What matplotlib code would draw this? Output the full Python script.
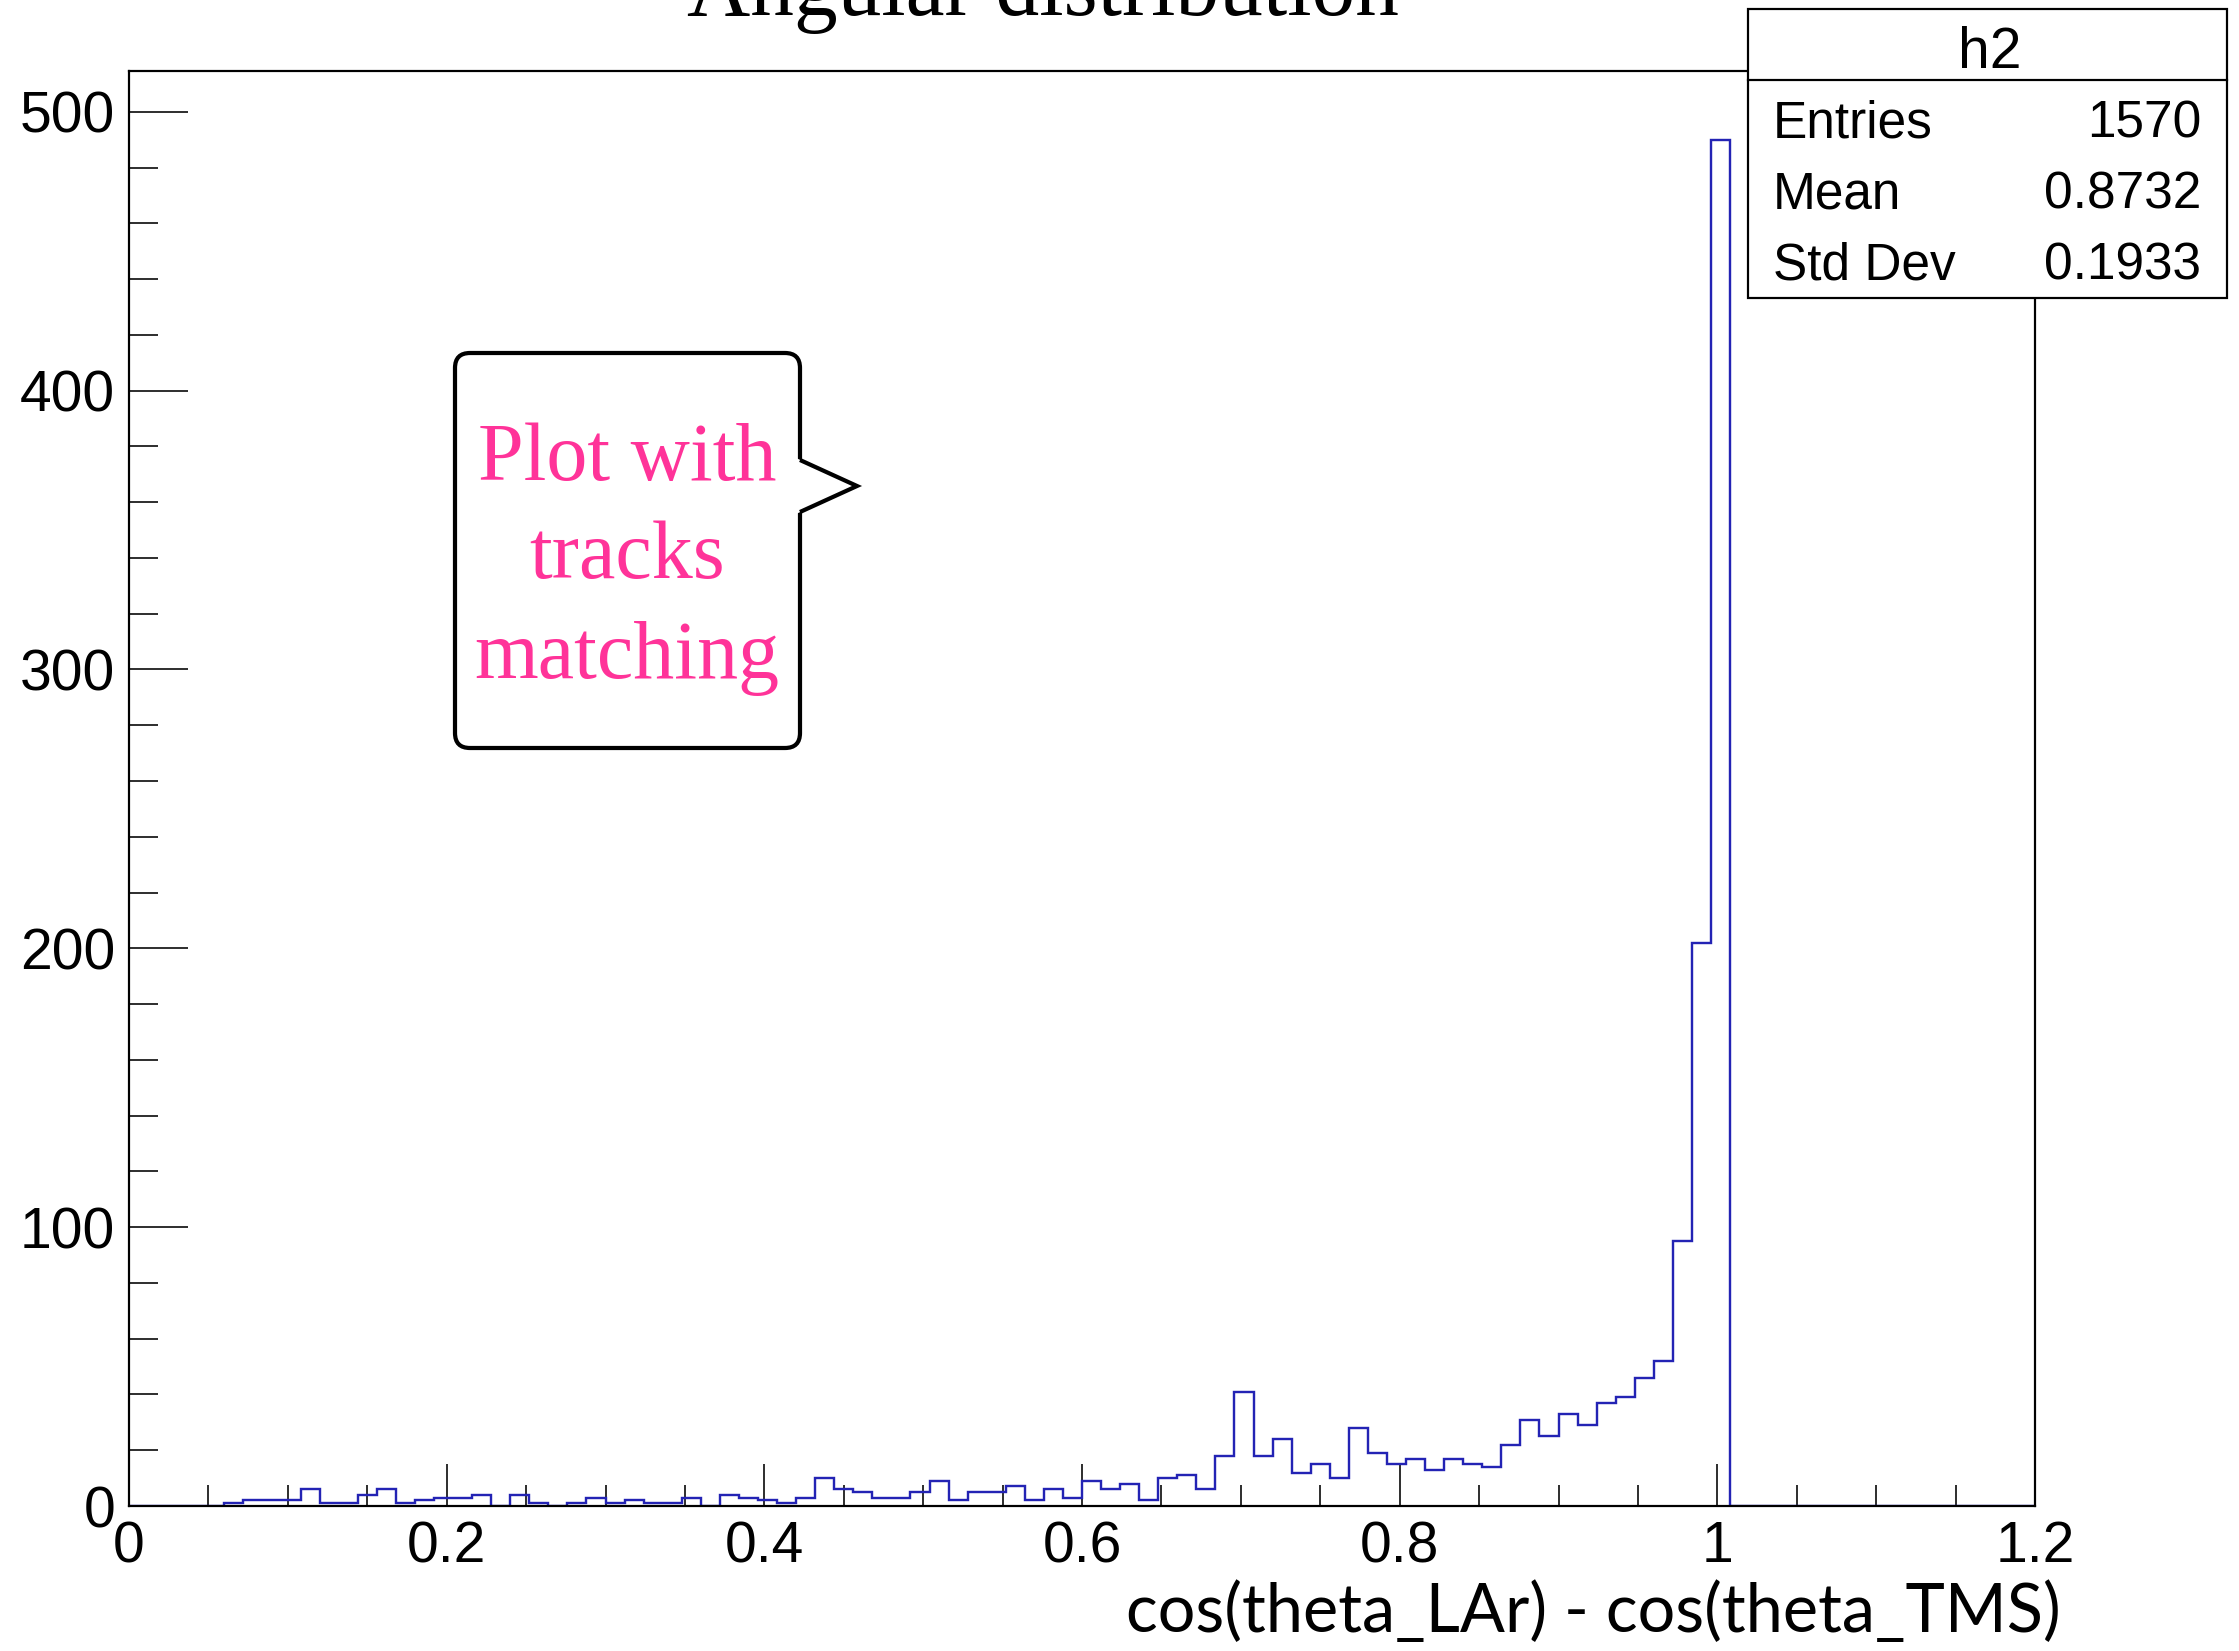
import numpy as np
import matplotlib
matplotlib.use("Agg")
import matplotlib.pyplot as plt
from matplotlib.patches import Rectangle, FancyBboxPatch, Polygon
from matplotlib.ticker import FixedLocator, MultipleLocator

# canvas size in pixels
W, H = 2239, 1651
DPI = 100

# histogram binning and contents
x_low, x_high, n_bins = 0.0, 1.2, 100
bin_counts = [
    0, 0, 0, 0, 0, 1, 2, 2, 2, 6,
    1, 1, 4, 6, 1, 2, 3, 3, 4, 0,
    4, 1, 0, 1, 3, 1, 2, 1, 1, 3,
    0, 4, 3, 2, 1, 3, 10, 6, 5, 3,
    3, 5, 9, 2, 5, 5, 7, 2, 6, 3,
    9, 6, 8, 2, 10, 11, 6, 18, 41, 18,
    24, 12, 15, 10, 28, 19, 15, 17, 13, 17,
    15, 14, 22, 31, 25, 33, 29, 37, 39, 46,
    52, 95, 202, 490, 0, 0, 0, 0, 0, 0,
    0, 0, 0, 0, 0, 0, 0, 0, 0, 0,
]
y_max = 514.5

x_ticks = [0.0, 0.2, 0.4, 0.6, 0.8, 1.0, 1.2]
x_tick_labels = ["0", "0.2", "0.4", "0.6", "0.8", "1", "1.2"]
y_ticks = [0, 100, 200, 300, 400, 500]
y_tick_labels = ["0", "100", "200", "300", "400", "500"]

title_text = "Angular distribution"
x_title = "cos(theta_LAr) - cos(theta_TMS)"
stats_name = "h2"
stats_labels = ["Entries", "Mean", "Std Dev"]
stats_values = ["1570", "0.8732", "0.1933"]
note_lines = ["Plot with", "tracks", "matching"]

SANS = ["Liberation Sans", "DejaVu Sans"]
SERIF = ["Liberation Serif", "DejaVu Serif"]
HUMANIST = ["Lato", "DejaVu Sans"]

def pt(px):
    return px * 72.0 / DPI

fig = plt.figure(figsize=(W / DPI, H / DPI), dpi=DPI)
fig.patch.set_facecolor("white")

# frame of the histogram pad, in pixels
L, R, T, B = 129, 2035, 71.4, 1506
ax = fig.add_axes([L / W, 1 - B / H, (R - L) / W, (B - T) / H])

edges = np.linspace(x_low, x_high, n_bins + 1)
ax.stairs(bin_counts, edges, color="#2323b4", linewidth=pt(2.4), zorder=2)

ax.set_xlim(x_low, x_high)
ax.set_ylim(0, y_max)

ax.xaxis.set_major_locator(FixedLocator(x_ticks))
ax.set_xticklabels(x_tick_labels)
ax.xaxis.set_minor_locator(MultipleLocator(0.05))
ax.yaxis.set_major_locator(FixedLocator(y_ticks))
ax.set_yticklabels(y_tick_labels)
ax.yaxis.set_minor_locator(MultipleLocator(20))

ax.tick_params(axis="both", which="both", direction="in", width=pt(1.6),
               color="black", top=False, right=False)
ax.tick_params(axis="x", which="major", length=pt(42), pad=pt(14))
ax.tick_params(axis="x", which="minor", length=pt(21))
ax.tick_params(axis="y", which="major", length=pt(59), pad=pt(14))
ax.tick_params(axis="y", which="minor", length=pt(29))
for lab in ax.get_xticklabels() + ax.get_yticklabels():
    lab.set_fontfamily(SANS)
    lab.set_fontsize(41)

for sp in ax.spines.values():
    sp.set_linewidth(pt(2.2))
    sp.set_color("black")
    sp.set_zorder(3)

# overlay in pixel coordinates for title, stats box and note
ov = fig.add_axes([0, 0, 1, 1], zorder=10)
ov.set_xlim(0, W)
ov.set_ylim(H, 0)
ov.axis("off")
ov.patch.set_alpha(0)

# the pad title sits mostly above the top edge of the canvas
ov.text(1043, 15, title_text, family=SERIF, fontsize=63,
        ha="center", va="baseline", color="black", clip_on=False)

ov.text(2061, 1632, x_title, family=HUMANIST, fontsize=48,
        ha="right", va="baseline", color="black")

# statistics box
bx0, bx1, by0, by1 = 1748, 2227, 9, 298
ov.add_patch(Rectangle((bx0, by0), bx1 - bx0, by1 - by0, facecolor="white",
                       edgecolor="black", linewidth=pt(2.2)))
ov.plot([bx0, bx1], [80, 80], color="black", linewidth=pt(2.2))
ov.text((bx0 + bx1) / 2 + 2, 68, stats_name, family=SANS, fontsize=41,
        ha="center", va="baseline")
for i, (lab, val) in enumerate(zip(stats_labels, stats_values)):
    yb = 137 + i * 71.2
    ov.text(1773, yb, lab, family=SANS, fontsize=37, ha="left", va="baseline")
    ov.text(2201, yb, val, family=SANS, fontsize=37, ha="right", va="baseline")

# speech bubble note
nx0, nx1, ny0, ny1 = 455, 800, 353, 748
lw_note = pt(4.2)
ov.add_patch(FancyBboxPatch((nx0 + 15, ny0 + 15), nx1 - nx0 - 30, ny1 - ny0 - 30,
                            boxstyle="round,pad=15,rounding_size=15",
                            facecolor="white", edgecolor="black",
                            linewidth=lw_note, mutation_aspect=1))
tail = [(nx1, 460), (857, 486), (nx1, 512)]
ov.add_patch(Polygon([(nx1 - 4, 458), (857, 486), (nx1 - 4, 514)], closed=True,
                     facecolor="white", edgecolor="none"))
ov.plot([p[0] for p in tail], [p[1] for p in tail], color="black",
        linewidth=lw_note, solid_joinstyle="miter", solid_capstyle="butt")
for line, yb in zip(note_lines, [480, 578, 678]):
    ov.text(627, yb, line, family=SERIF, fontsize=59, color="#ff3399",
            ha="center", va="baseline")

fig.savefig("out.png", dpi=DPI, facecolor="white")
